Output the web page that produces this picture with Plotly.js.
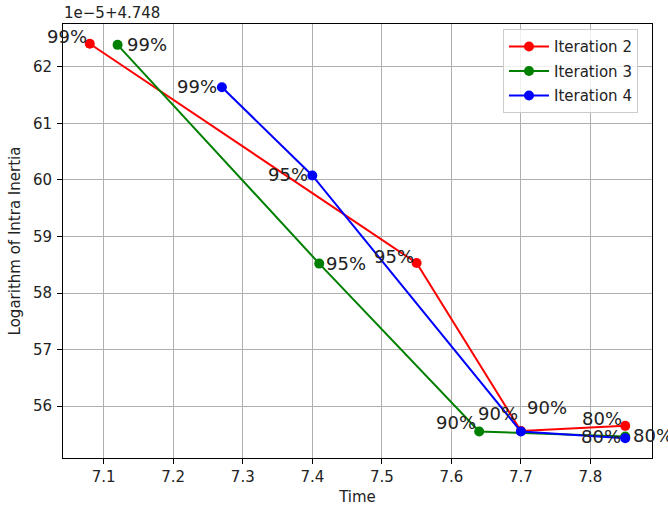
<!DOCTYPE html>
<html>
<head>
<meta charset="utf-8">
<script src="https://cdn.plot.ly/plotly-3.0.1.min.js"></script>
<style>html,body{margin:0;padding:0;background:#fff;}#chart{width:668px;height:515px;}</style>
</head>
<body>
<div id="chart"></div>
<script>
// Data (y values in units of 1e-5, offset +4.748 as shown on the axis)
const seriesNames = ["Iteration 2", "Iteration 3", "Iteration 4"];
const time2 = [7.08, 7.55, 7.70, 7.85];
const inertia2 = [62.41, 58.53, 55.56, 55.65];
const time3 = [7.12, 7.41, 7.64, 7.85];
const inertia3 = [62.39, 58.52, 55.55, 55.46];
const time4 = [7.27, 7.40, 7.70, 7.85];
const inertia4 = [61.64, 60.08, 55.55, 55.43];
const pctLabels = ["99%", "95%", "90%", "80%"];
const yTicks = [56, 57, 58, 59, 60, 61, 62];
const xTicks = [7.1, 7.2, 7.3, 7.4, 7.5, 7.6, 7.7, 7.8];
const offsetText = "1e\u22125+4.748";

// Styles
const colors = ["#ff0000", "#008000", "#0000ff"];
const FONT = "DejaVu Sans, Liberation Sans, sans-serif";
const TXT = "#222222";
// label placement per series / per point: [xanchor, xshift, yshift]
const labelPlace = [
  [["right", -1, 7.5], ["right", -1, 7], ["right", -1, 17.5], ["right", -1, 7]],
  [["left", 7, 0], ["left", 5, 0], ["right", -1, 8.5], ["left", 6, 1]],
  [["right", -2.5, 1], ["right", -2.5, 0.5], ["left", 4, 23.5], ["right", -2.5, 2]]
];

const xs = [time2, time3, time4];
const ys = [inertia2, inertia3, inertia4];

const traces = xs.map((x, i) => ({
  x: x, y: ys[i], type: "scatter", mode: "lines+markers",
  name: seriesNames[i], legendgroup: "g" + i,
  line: {color: colors[i], width: 2},
  marker: {color: colors[i], size: 10}
}));

const annotations = [];
xs.forEach((x, i) => {
  x.forEach((xv, j) => {
    const p = labelPlace[i][j];
    annotations.push({
      x: xv, y: ys[i][j], xref: "x", yref: "y", text: pctLabels[j],
      showarrow: false, xanchor: p[0], yanchor: "middle",
      xshift: p[1], yshift: p[2],
      font: {family: FONT, size: 18, color: TXT}
    });
  });
});
annotations.push({
  xref: "paper", yref: "paper", x: 0, y: 1, xanchor: "left", yanchor: "bottom",
  yshift: 0, xshift: -1, text: offsetText, showarrow: false,
  font: {family: FONT, size: 15, color: TXT}
});

const allX = [].concat(...xs), allY = [].concat(...ys);
const xmin = Math.min(...allX), xmax = Math.max(...allX);
const ymin = Math.min(...allY), ymax = Math.max(...allY);
const mx = (xmax - xmin) * 0.05, my = (ymax - ymin) * 0.05;

const layout = {
  width: 668, height: 515,
  margin: {l: 63, r: 16, t: 24, b: 57, pad: 0},
  paper_bgcolor: "#ffffff", plot_bgcolor: "#ffffff",
  font: {family: FONT, size: 15, color: TXT},
  showlegend: true,
  legend: {
    x: 0.9762, y: 0.988, xanchor: "right", yanchor: "top",
    bgcolor: "rgba(255,255,255,0.8)", bordercolor: "#cccccc", borderwidth: 1,
    font: {family: FONT, size: 15, color: TXT},
    traceorder: "grouped", tracegroupgap: 2, itemwidth: 40
  },
  xaxis: {
    range: [xmin - mx, xmax + mx], tickvals: xTicks, ticktext: xTicks.map(v => v.toFixed(1)),
    showgrid: true, gridcolor: "#b0b0b0", gridwidth: 1, zeroline: false,
    showline: true, linecolor: "#000000", linewidth: 1, mirror: true,
    ticks: "outside", ticklen: 5, tickwidth: 1, tickcolor: "#000000",
    tickfont: {family: FONT, size: 15, color: TXT},
    title: {text: "Time", font: {family: FONT, size: 15, color: TXT}, standoff: 6}
  },
  yaxis: {
    range: [ymin - my, ymax + my], tickvals: yTicks, ticktext: yTicks.map(String),
    showgrid: true, gridcolor: "#b0b0b0", gridwidth: 1, zeroline: false,
    showline: true, linecolor: "#000000", linewidth: 1, mirror: true,
    ticks: "outside", ticklen: 5, tickwidth: 1, tickcolor: "#000000", ticklabelstandoff: 2,
    tickfont: {family: FONT, size: 15, color: TXT},
    title: {text: "Logarithm of Intra Inertia", font: {family: FONT, size: 15, color: TXT}, standoff: 8}
  },
  annotations: annotations
};

Plotly.newPlot("chart", traces, layout, {displayModeBar: false, staticPlot: true});
</script>
</body>
</html>
